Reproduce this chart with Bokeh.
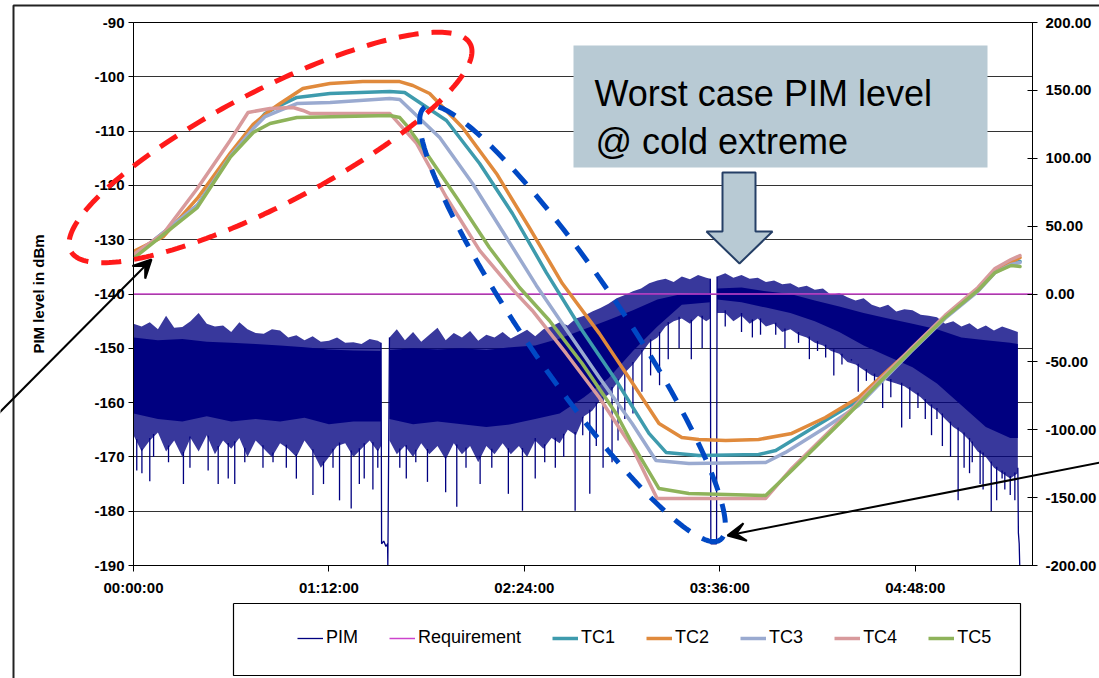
import numpy as np
from bokeh.plotting import figure
from bokeh.layouts import column
from bokeh.models import (Range1d, LinearAxis, FixedTicker, NumeralTickFormatter, Legend,
                          LegendItem, Arrow, VeeHead, PolyAnnotation, BoxAnnotation, Label)
from bokeh.embed import file_html
from bokeh.resources import INLINE

# ---------------- data ----------------
x_tick_minutes = [0, 72, 144, 216, 288]
x_tick_labels = ["00:00:00", "01:12:00", "02:24:00", "03:36:00", "04:48:00"]
x_max_minutes = 331.2
pim_ticks = [-190, -180, -170, -160, -150, -140, -130, -120, -110, -100, -90]
pim_tick_labels = ["-190", "-180", "-170", "-160", "-150", "-140", "-130", "-120", "-110", "-100", "-90"]
temp_ticks = [-200, -150, -100, -50, 0, 50, 100, 150, 200]
requirement_dbm = -140
series_names = ["PIM", "Requirement", "TC1", "TC2", "TC3", "TC4", "TC5"]

# PIM trace: outer (fringe) envelope in dBm
pim_t = [0, 3, 6, 9, 12, 15, 18, 21, 24, 27, 30, 33, 36, 39, 42, 45, 48, 51, 54, 57, 60, 63, 66, 69, 72, 75,
         78, 81, 84, 87, 90, 91.2,
         94.3, 97, 100, 103, 106, 109, 112, 115, 118, 121, 124, 127, 130, 133, 136, 139, 142, 145, 148, 151,
         154, 157, 160, 163, 166, 169, 172, 175, 178, 181, 184, 187, 190, 193, 196, 199, 202, 205, 208, 211, 212.5,
         215, 218, 221, 224, 227, 230, 233, 236, 239, 242, 245, 248, 251, 254, 257, 260, 263, 266, 269, 272,
         275, 278, 281, 284, 287, 290, 293, 296, 299, 302, 305, 308, 311, 314, 317, 320, 323, 325.8]
pim_hi = [-145.5, -146.0, -145.2, -146.5, -144.0, -146.2, -146.1, -145.0, -143.5, -145.5, -146.0, -145.8, -147.0,
          -145.2, -146.5, -147.2, -147.3, -146.5, -146.7, -148.0, -147.6, -148.5, -147.8, -148.8, -148.6, -148.0,
          -149.0, -148.9, -149.2, -148.3, -148.6, -149.0,
          -148.0, -146.5, -148.5, -147.0, -148.8, -147.5, -146.2, -148.5, -147.2, -148.0, -146.8, -148.6, -147.5,
          -148.0, -147.0, -148.2, -147.4, -146.6, -147.8, -146.5, -146.0, -145.2, -145.8, -144.5, -144.0, -143.2,
          -142.6, -141.8, -140.8, -140.2, -139.5, -139.0, -138.0, -137.5, -137.2, -137.8, -136.8, -137.3, -136.5,
          -137.0, -137.2,
          -136.8, -136.2, -137.0, -136.5, -137.2, -137.0, -137.8, -137.5, -138.2, -138.0, -138.8, -138.5, -139.2,
          -139.0, -140.2, -139.8, -140.6, -141.2, -140.8, -142.0, -142.5, -142.0, -143.2, -142.8, -143.0, -143.8,
          -144.0, -144.3, -145.5, -145.0, -146.0, -145.4, -146.5, -145.8, -146.7, -146.0, -146.5, -147.0]
pim_lo = [-166, -169, -167, -165.5, -169, -167, -170, -166.5, -169, -166, -169.5, -167, -168.5, -166.5, -170, -167,
          -168.5, -170, -167.5, -168.5, -170, -167, -169, -172, -170, -168, -167.5, -170, -168.5, -167, -169, -168,
          -167, -169.5, -168, -170, -167.5, -169.5, -168, -170.5, -167.5, -169.5, -168, -171, -168, -169.5, -167.5,
          -169.5, -168, -170, -167, -168.5, -166.5, -167.5, -165, -166, -162.5, -161.5, -159.5, -158.5, -156.5,
          -154.5, -153, -151, -149, -148, -146, -145, -144.5, -145.5, -144, -145, -144.5,
          -143.5, -143.5, -145, -144, -145.5, -144.5, -146, -145.5, -147, -146.5, -147.5, -148, -149, -149.5,
          -150.5, -151, -152.5, -153, -154, -155, -155.5, -156, -156.5, -157, -158, -159, -160.5, -161.5, -163,
          -164.5, -165.5, -167, -169, -170, -172, -173, -174, -173]
# dense core of the PIM trace
core_t = [0, 9, 18, 27, 36, 45, 54, 63, 72, 81, 91.2,
          94.3, 103, 112, 121, 130, 139, 148, 157, 166, 175, 184, 193, 202, 212.5,
          215, 224, 233, 242, 251, 260, 269, 278, 287, 296, 305, 314, 323, 325.8]
core_hi = [-148.0, -148.5, -148.3, -148.8, -149.0, -149.2, -149.5, -149.8, -150.2, -150.4, -150.5,
           -150.3, -150.0, -150.2, -150.0, -150.3, -149.8, -149.5, -148.2, -146.5, -144.8, -143.0, -141.0, -140.0,
           -139.8,
           -139.0, -138.8, -139.5, -140.0, -141.2, -142.3, -143.5, -144.5, -145.5, -146.5, -148.0, -148.5, -149.0,
           -149.2]
core_lo = [-162.0, -163.0, -163.5, -162.5, -163.5, -163.0, -163.5, -162.8, -164.0, -163.5, -163.5,
           -163.0, -164.0, -163.5, -164.0, -164.5, -164.0, -163.0, -162.0, -159.0, -155.5, -150.5, -146.0, -142.0,
           -141.5,
           -141.0, -141.5, -142.5, -143.5, -145.0, -147.0, -149.5, -151.5, -153.5, -156.5, -160.5, -164.5, -166.5,
           -166.5]
pim_pieces = [(0, 91.2), (94.3, 212.5), (215.0, 325.8)]

# downward spikes of the PIM trace (time, dBm)
spike_t = [1.2, 3.1, 6.0, 7.4, 12.9, 18.4, 20.8, 27.5, 31.2, 34.9, 37.3, 41.0, 47.7, 51.4, 56.3, 60.0, 66.1,
           70.0, 73.5, 75.9, 80.2, 83.2, 85.0, 88.2, 90.0,
           98.1, 100.5, 104.0, 108.3, 115.0, 119.1, 122.5, 127.7, 132.0, 138.1, 143.3, 148.0, 151.5, 155.4, 158.5,
           162.7, 165.5, 168.1, 170.5, 173.0, 176.3, 178.5, 181.0, 184.0, 187.3, 190.5, 193.8, 197.0, 201.0, 205.5,
           209.5,
           218.0, 224.0, 228.0, 231.0, 236.6, 240.0, 245.0, 249.0, 252.0, 255.0, 258.0, 261.0, 264.5, 267.0, 270.0,
           273.0, 276.0, 279.0, 283.0, 286.0, 289.0, 291.7, 294.0, 296.0, 298.0, 301.0, 303.8, 306.0, 308.0, 309.0,
           311.9, 313.0, 316.0, 318.0, 320.0, 321.0, 323.0, 324.7]
spike_v = [-172.5, -173, -174.5, -170, -171, -175, -172, -172.5, -175, -174, -175, -171, -172, -171, -172, -174,
           -177, -175, -172, -178, -179.5, -175, -174, -176, -172,
           -172, -174, -171, -174.6, -176.5, -179.2, -172, -175, -172, -176.8, -179.9, -174, -171, -172, -170,
           -179.9, -166, -176.8, -168, -172, -171, -167, -163, -162, -158, -155, -156.8, -152, -150, -152,
           -150,
           -146, -147, -148, -147.5, -147.5, -150, -149, -152, -150.5, -151.7, -155, -153, -152, -158, -156,
           -157, -161, -159, -164.6, -163, -161, -163, -166, -163, -168, -170, -178, -172, -173, -171,
           -175, -176, -180, -178, -174, -176, -177, -178]

# drop-outs of the PIM trace
dip_a_t = [91.2, 91.4, 92.2, 93.0, 93.6, 93.7, 94.3]
dip_a_v = [-149, -186, -185.5, -186.5, -186, -190, -148]
dip_b_t = [212.5, 212.7, 214.8, 215.0]
dip_b_v = [-137.2, -186, -186, -136.8]
dip_end_t = [325.8, 326.0, 326.3, 326.5]
dip_end_v = [-172, -184, -186, -190]

# temperature curves (right axis)
tc1_t = [0, 23.5, 35.6, 44.1, 48.5, 54.0, 60.2, 72.4, 94.4, 99.9, 115.3, 127.5, 139.6, 152.1, 165.3, 177.8,
         189.9, 196.2, 208.3, 230.3, 236.6, 248.7, 267.1, 280.7, 286.5, 299.0, 311.1, 317.4, 323.3, 326.6]
tc1_v = [27.6, 65.2, 102.0, 122.7, 133.0, 138.9, 144.8, 147.7, 149.2, 148.4, 127.8, 96.1, 59.3, 15.8, -26.9,
         -63.7, -102.7, -116.7, -119.0, -118.2, -115.3, -100.5, -78.4, -52.6, -41.6, -17.3, 2.6, 16.6, 22.5, 24.0]
tc2_t = [0, 11.0, 23.5, 35.6, 44.1, 50.3, 54.0, 62.4, 72.4, 84.5, 98.1, 102.9, 109.1, 121.2, 133.7, 145.8,
         158.0, 171.6, 183.7, 193.6, 202.0, 208.3, 218.2, 230.3, 242.5, 254.9, 267.1, 280.7, 286.5, 299.0,
         311.1, 317.4, 323.3, 326.6]
tc2_v = [31.3, 42.3, 70.4, 103.6, 125.0, 135.2, 140.3, 151.4, 155.1, 156.5, 156.5, 153.6, 147.7, 122.7, 88.8,
         49.0, 7.7, -29.0, -65.2, -95.4, -105.7, -107.2, -107.9, -107.2, -102.7, -91.0, -76.2, -51.2, -40.9,
         -16.6, 3.3, 17.3, 23.2, 26.9]
tc3_t = [0, 23.5, 35.6, 44.1, 48.5, 54.0, 60.2, 72.4, 94.4, 98.1, 112.8, 124.9, 137.4, 148.4, 159.4, 171.6,
         183.7, 192.5, 204.6, 232.9, 240.2, 254.9, 267.1, 280.7, 286.5, 299.0, 311.1, 317.4, 323.3, 326.6]
tc3_v = [27.6, 65.2, 101.3, 121.9, 130.7, 135.2, 140.3, 141.1, 144.0, 143.3, 115.3, 81.4, 41.6, 6.3, -26.0,
         -61.5, -95.4, -122.6, -124.8, -124.1, -116.7, -98.3, -82.1, -54.1, -42.3, -18.0, 1.9, 15.8, 21.7, 23.2]
tc4_t = [0, 11.0, 23.5, 35.6, 42.2, 50.3, 58.8, 62.4, 65.0, 94.4, 104.3, 115.3, 127.5, 139.6, 146.9, 159.4,
         171.6, 183.7, 192.9, 204.6, 232.9, 242.5, 262.3, 274.4, 286.5, 299.0, 311.1, 317.4, 323.3, 326.6]
tc4_v = [29.1, 44.6, 77.7, 113.1, 133.7, 136.7, 137.4, 135.2, 133.0, 133.0, 110.9, 71.1, 32.1, 3.4, -12.1,
         -43.8, -76.2, -113.1, -150.6, -150.6, -150.6, -128.5, -89.5, -64.4, -40.1, -15.8, 4.8, 18.8, 25.4, 28.3]
tc5_t = [0, 23.5, 35.6, 44.1, 50.3, 60.2, 94.4, 98.1, 100.7, 106.5, 119.0, 131.1, 142.2, 153.2, 165.3, 177.8,
         183.7, 193.6, 204.6, 232.9, 242.5, 262.3, 274.4, 286.5, 299.0, 311.1, 317.4, 323.3, 326.6]
tc5_v = [26.2, 63.7, 100.6, 119.0, 125.6, 130.0, 131.5, 130.0, 124.0, 107.9, 71.1, 34.3, 4.8, -19.5, -51.2,
         -88.0, -110.1, -143.3, -146.9, -148.4, -130.0, -91.0, -65.9, -41.6, -17.3, 2.6, 15.8, 21.0, 20.3]

# ---------------- styles ----------------
W, H = 1099, 678
PIM_COLOR = "#000080"
REQ_COLOR = "#CC44CC"
TC_COLORS = ["#3E9BAD", "#E08A3C", "#9AAAD0", "#D89A9C", "#8EB35A"]
FONT = "Liberation Sans"

p = figure(width=W, height=H, x_range=Range1d(0, x_max_minutes), y_range=Range1d(-190, -90),
           output_backend="svg", toolbar_location=None, title=None,
           min_border_left=133, min_border_right=64, min_border_top=22, min_border_bottom=113,
           background_fill_color="white", border_fill_color="white", frame_align=False)
p.outline_line_color = "black"
p.outline_line_width = 1

p.xgrid.visible = False
p.ygrid.ticker = FixedTicker(ticks=pim_ticks)
p.ygrid.grid_line_color = "#333333"
p.ygrid.grid_line_width = 1.2

ya = p.yaxis[0]
ya.ticker = FixedTicker(ticks=pim_ticks)
ya.major_label_overrides = {t: s for t, s in zip(pim_ticks, pim_tick_labels)}
ya.axis_label = "PIM level in dBm"
ya.axis_label_text_font = FONT
ya.axis_label_text_font_style = "bold"
ya.axis_label_text_font_size = "15px"
ya.axis_label_text_color = "black"
ya.axis_label_standoff = 44
ya.major_tick_in = 0
ya.major_tick_out = 5
ya.major_label_standoff = 4

xa = p.xaxis[0]
xa.ticker = FixedTicker(ticks=x_tick_minutes)
xa.major_label_overrides = {t: s for t, s in zip(x_tick_minutes, x_tick_labels)}
xa.major_tick_in = 0
xa.major_tick_out = 6
xa.major_label_standoff = 7

p.extra_y_ranges = {"temp": Range1d(-200, 200)}
ra = LinearAxis(y_range_name="temp", ticker=FixedTicker(ticks=temp_ticks),
                formatter=NumeralTickFormatter(format="0.00"))
ra.major_tick_in = 5
ra.major_tick_out = 5
ra.major_label_standoff = 8
p.add_layout(ra, "right")

for ax in (xa, ya, ra):
    ax.axis_line_color = "black"
    ax.major_tick_line_color = "black"
    ax.minor_tick_line_color = None
    ax.major_label_text_font = FONT
    ax.major_label_text_font_style = "bold"
    ax.major_label_text_font_size = "15px"
    ax.major_label_text_color = "black"

# PIM trace: fringe, dense core, spikes and drop-outs
pt, ph, pl = np.array(pim_t), np.array(pim_hi), np.array(pim_lo)
ct, ch, cl = np.array(core_t), np.array(core_hi), np.array(core_lo)
for a, b in pim_pieces:
    m = (pt >= a) & (pt <= b)
    p.varea(x=pt[m], y1=pl[m], y2=ph[m], fill_color=PIM_COLOR, fill_alpha=0.78)
    mc = (ct >= a) & (ct <= b)
    p.varea(x=ct[mc], y1=cl[mc], y2=ch[mc], fill_color=PIM_COLOR, fill_alpha=1)
st = np.array(spike_t)
p.segment(x0=st, y0=np.array(spike_v), x1=st, y1=np.interp(st, pt, pl) + 0.5,
          line_color=PIM_COLOR, line_width=1.3)
p.line(dip_a_t, dip_a_v, line_color=PIM_COLOR, line_width=1.3)
p.line(dip_b_t, dip_b_v, line_color=PIM_COLOR, line_width=1.3)
p.line(dip_end_t, dip_end_v, line_color=PIM_COLOR, line_width=1.3)

p.line([0, x_max_minutes], [requirement_dbm, requirement_dbm], line_color=REQ_COLOR, line_width=1.5)

for (tt, vv), col in zip([(tc1_t, tc1_v), (tc2_t, tc2_v), (tc3_t, tc3_v), (tc4_t, tc4_v), (tc5_t, tc5_v)],
                         TC_COLORS):
    p.line(tt, vv, y_range_name="temp", line_color=col, line_width=3.5, line_join="round", line_cap="round")

# callout (inside the plot frame, canvas pixels)
p.add_layout(BoxAnnotation(left=573, right=987, top=45, bottom=167,
                           left_units="canvas", right_units="canvas", top_units="canvas", bottom_units="canvas",
                           fill_color="#B8CAD4", fill_alpha=1, line_alpha=0))
p.add_layout(Label(x=594, y=93, x_units="canvas", y_units="canvas", text="Worst case PIM level",
                   text_font=FONT, text_font_size="36px", text_baseline="alphabetic", text_color="black"))
p.add_layout(Label(x=595, y=141, x_units="canvas", y_units="canvas", text="@ cold extreme",
                   text_font=FONT, text_font_size="36px", text_baseline="alphabetic", text_color="black"))
p.add_layout(PolyAnnotation(xs=[722, 755, 755, 772, 739, 706, 722], ys=[172, 172, 231, 231, 263, 231, 231],
                            xs_units="canvas", ys_units="canvas", fill_color="#B8CAD4", fill_alpha=1,
                            line_color="#253F66", line_alpha=1, line_width=2))

# ---------------- overlay (canvas pixels) for marks that leave the plot frame ----------------
ov = figure(width=W, height=H, x_range=Range1d(0, W), y_range=Range1d(H, 0),
            x_axis_type=None, y_axis_type=None, toolbar_location=None, output_backend="svg", title=None,
            min_border=0, background_fill_alpha=0, border_fill_alpha=0, outline_line_color=None,
            frame_align=False,
            styles={"position": "absolute", "top": "0px", "left": "0px", "z-index": "2"})
ov.grid.visible = False


def ellipse_pts(cx, cy, a, b, ang_deg, num=240):
    th = np.linspace(0, 2 * np.pi, num)
    u, v = a * np.cos(th), b * np.sin(th)
    r = np.radians(ang_deg)
    return cx + u * np.cos(r) - v * np.sin(r), cy + u * np.sin(r) + v * np.cos(r)


ov.line([13, 13, W], [H, 5, 5], line_color="#222222", line_width=2)                 # chart border
ov.line([233, 1020, 1020, 233, 233], [603, 603, 675, 675, 603], line_color="black", line_width=1.2)  # legend box
rx, ry = ellipse_pts(270, 147, 225, 57, -27.4)
ov.patch(rx, ry, fill_alpha=0, line_color="#FF1A1A", line_width=5, line_dash="20 13")
bx, by = ellipse_pts(572, 323, 262, 48, 55.7)
ov.patch(bx, by, fill_alpha=0, line_color="#0048C4", line_width=5, line_dash="19 14")
ov.add_layout(Arrow(x_start=-5, y_start=416, x_end=151, y_end=259, line_color="black", line_width=2,
                    end=VeeHead(size=18, line_color="black", line_width=2)))
ov.add_layout(Arrow(x_start=1110, y_start=460, x_end=727, y_end=535, line_color="black", line_width=2,
                    end=VeeHead(size=18, line_color="black", line_width=2)))

# legend keys (same styles as the series; kept outside the visible canvas)
key_styles = [(PIM_COLOR, 1.3), (REQ_COLOR, 1.5)] + [(c, 3.5) for c in TC_COLORS]
key_renderers = [ov.line(x=[-30, -20], y=[-30, -30], line_color=c, line_width=w) for c, w in key_styles]
legend = Legend(items=[LegendItem(label=n, renderers=[r]) for n, r in zip(series_names, key_renderers)],
                orientation="horizontal", location=(287, 20),
                label_text_font=FONT, label_text_font_size="18px", label_text_color="black",
                label_standoff=3, glyph_width=26, glyph_height=20, label_height=20,
                spacing=31, padding=10, margin=0,
                border_line_alpha=0, background_fill_alpha=0)
ov.add_layout(legend)

page = column(p, ov, spacing=0)
open("out.html", "w").write(file_html(page, INLINE))
